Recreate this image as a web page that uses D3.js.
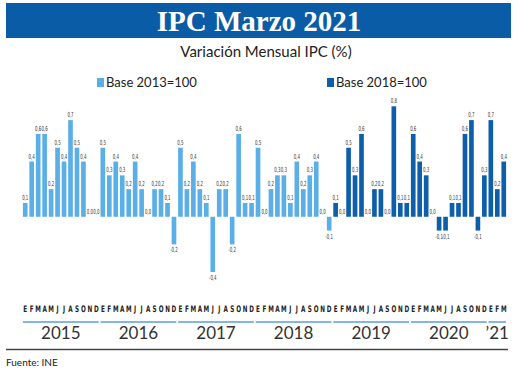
<!DOCTYPE html>
<html>
<head>
<meta charset="utf-8">
<script src="https://cdn.jsdelivr.net/npm/d3@7"></script>
<style>
  body { margin: 0; background: #fff; }
</style>
</head>
<body>
<div id="chart"></div>
<script>
// Monthly CPI change (%), Jan 2015 - Dec 2018, base 2013=100
var base2013 = [
    0.1, 0.4, 0.6, 0.6, 0.2, 0.5, 0.4, 0.7, 0.5, 0.4, 0.0, 0.0,
    0.5, 0.3, 0.4, 0.3, 0.2, 0.4, 0.2, 0.0, 0.2, 0.2, 0.1, -0.2,
    0.5, 0.2, 0.4, 0.2, 0.1, -0.4, 0.2, 0.2, -0.2, 0.6, 0.1, 0.1,
    0.5, 0.0, 0.2, 0.3, 0.3, 0.1, 0.4, 0.2, 0.3, 0.4, 0.0, -0.1
];
// Jan 2019 - Mar 2021, base 2018=100
var base2018 = [
    0.1, 0.0, 0.5, 0.3, 0.6, 0.0, 0.2, 0.2, 0.0, 0.8, 0.1, 0.1,
    0.6, 0.4, 0.3, 0.0, -0.1, -0.1, 0.1, 0.1, 0.6, 0.7, -0.1, 0.3,
    0.7, 0.2, 0.4
];
var monthLetters = ["E", "F", "M", "A", "M", "J", "J", "A", "S", "O", "N", "D"];
var years = ["2015", "2016", "2017", "2018", "2019", "2020", "\u201921"];
var yearMonths = [12, 12, 12, 12, 12, 12, 3];
var seriesNames = ["Base 2013=100", "Base 2018=100"];
var colors = ["#5aafe6", "#0c5fa8"];

var width = 520, height = 372;

var data = [];
base2013.forEach(function (v) { data.push({ v: v, s: 0 }); });
base2018.forEach(function (v) { data.push({ v: v, s: 1 }); });
data.forEach(function (d, i) {
    d.i = i;
    d.m = monthLetters[i % 12];
});

var svg = d3.select("#chart")
    .append("svg")
    .attr("width", width)
    .attr("height", height);

// Title banner
svg.append("rect")
    .attr("x", 6).attr("y", 3)
    .attr("width", 505).attr("height", 35)
    .attr("fill", "#0b5ca7");
svg.append("text")
    .attr("x", 259).attr("y", 31)
    .attr("text-anchor", "middle")
    .attr("font-family", "Liberation Serif, serif")
    .attr("font-weight", "bold")
    .attr("font-size", 29)
    .attr("fill", "#fff")
    .text("IPC Marzo 2021");
svg.append("text")
    .attr("x", 266).attr("y", 57)
    .attr("text-anchor", "middle")
    .attr("font-family", "Lato, sans-serif")
    .attr("font-size", 15)
    .attr("fill", "#222")
    .text("Variación Mensual IPC (%)");

// Legend
var legX = [97, 327];
seriesNames.forEach(function (n, k) {
    svg.append("rect")
        .attr("x", legX[k]).attr("y", 78)
        .attr("width", 7).attr("height", 9)
        .attr("fill", colors[k]);
    svg.append("text")
        .attr("x", legX[k] + 9).attr("y", 87)
        .attr("font-family", "Lato, sans-serif")
        .attr("font-size", 13)
        .attr("fill", "#222")
        .text(n);
});

// Scales
var x = d3.scaleBand()
    .domain(d3.range(data.length))
    .range([22, 507])
    .paddingInner(0.28)
    .paddingOuter(0.14);
var y = d3.scaleLinear()
    .domain([-0.4, 0.8])
    .range([272, 106.3]);

// Bars
svg.selectAll("rect.bar")
    .data(data)
    .enter().append("rect")
    .attr("class", "bar")
    .attr("x", function (d) { return x(d.i); })
    .attr("y", function (d) { return y(Math.max(0, d.v)); })
    .attr("width", x.bandwidth())
    .attr("height", function (d) { return Math.abs(y(d.v) - y(0)); })
    .attr("fill", function (d) { return colors[d.s]; });

// Value labels (narrow, like the original condensed type)
var fmt = function (v) { return d3.format(".1f")(v).replace(".", ",").replace("\u2212", "-"); };
svg.selectAll("text.val")
    .data(data)
    .enter().append("text")
    .attr("class", "val")
    .attr("transform", function (d) {
        var cx = x(d.i) + x.bandwidth() / 2;
        var cy = d.v < 0 ? y(d.v) + 8 : y(d.v) - 3;
        return "translate(" + cx + "," + cy + ") scale(0.62,1)";
    })
    .attr("text-anchor", "middle")
    .attr("font-family", "DejaVu Sans Condensed, sans-serif")
    .attr("font-size", 7)
    .attr("fill", "#333")
    .text(function (d) { return fmt(d.v); });

// Month letters
svg.selectAll("text.month")
    .data(data)
    .enter().append("text")
    .attr("class", "month")
    .attr("transform", function (d) {
        return "translate(" + (x(d.i) + x.bandwidth() / 2) + ",312) scale(0.7,1)";
    })
    .attr("text-anchor", "middle")
    .attr("font-family", "DejaVu Sans Condensed, sans-serif")
    .attr("font-weight", "bold")
    .attr("font-size", 9)
    .attr("fill", "#222")
    .text(function (d) { return d.m; });

// Year groups
var start = 0;
years.forEach(function (yr, k) {
    var first = start, last = start + yearMonths[k] - 1;
    var x0 = x(first), x1 = x(last) + x.bandwidth();
    svg.append("line")
        .attr("x1", x0).attr("x2", x1)
        .attr("y1", 322).attr("y2", 322)
        .attr("stroke", "#5a9fd6")
        .attr("stroke-width", 1.5);
    svg.append("text")
        .attr("x", (x0 + x1) / 2).attr("y", 339)
        .attr("text-anchor", "middle")
        .attr("font-family", "Lato, sans-serif")
        .attr("font-size", 17)
        .attr("fill", "#333")
        .text(yr);
    start += yearMonths[k];
});

svg.append("line")
    .attr("x1", 6).attr("x2", 508)
    .attr("y1", 349.5).attr("y2", 349.5)
    .attr("stroke", "#444")
    .attr("stroke-width", 1.5);
svg.append("text")
    .attr("x", 6).attr("y", 366)
    .attr("font-family", "Lato, sans-serif")
    .attr("font-size", 10)
    .attr("fill", "#222")
    .text("Fuente: INE");
</script>
</body>
</html>
